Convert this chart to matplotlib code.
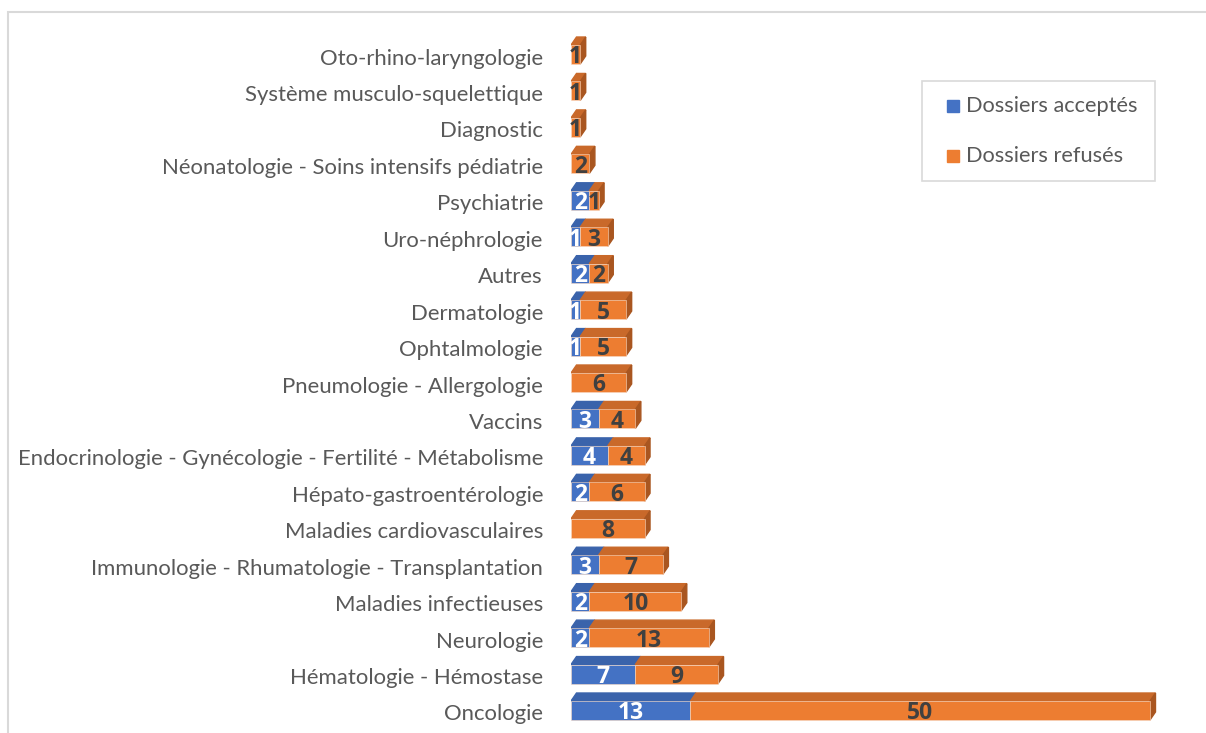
import matplotlib.pyplot as plt
from matplotlib.patches import Rectangle

# categories from bottom to top
categories = [
    'Oncologie',
    'Hématologie - Hémostase',
    'Neurologie',
    'Maladies infectieuses',
    'Immunologie - Rhumatologie - Transplantation',
    'Maladies cardiovasculaires',
    'Hépato-gastroentérologie',
    'Endocrinologie - Gynécologie - Fertilité - Métabolisme',
    'Vaccins',
    'Pneumologie - Allergologie',
    'Ophtalmologie',
    'Dermatologie',
    'Autres',
    'Uro-néphrologie',
    'Psychiatrie',
    'Néonatologie - Soins intensifs pédiatrie',
    'Diagnostic',
    'Système musculo-squelettique',
    'Oto-rhino-laryngologie',
]
acceptes = [13, 7, 2, 2, 3, 0, 2, 4, 3, 0, 1, 1, 2, 1, 2, 0, 0, 0, 0]
refuses = [50, 9, 13, 10, 7, 8, 6, 4, 4, 6, 5, 5, 2, 3, 1, 2, 1, 1, 1]

plt.rcParams['font.family'] = ['Lato', 'DejaVu Sans']

W, H = 1206, 733
fig = plt.figure(figsize=(W / 100, H / 100), dpi=100)

# outer light border of chart area
fig.patches.append(Rectangle((8 / W, -0.1), 1.2, 1 - 12 / H + 0.1, transform=fig.transFigure,
                             fill=False, edgecolor='#d9d9d9', linewidth=1.5))

px_per_unit = 9.19
row = 36.44
y_bottom_px = 710.5 + row / 2
y_top_px = 54.5 - row / 2
x0_px = 571
xmax = 68
ax = fig.add_axes([x0_px / W, (H - y_bottom_px) / H,
                   xmax * px_per_unit / W, (y_bottom_px - y_top_px) / H])
ax.set_xlim(0, xmax)
ax.set_ylim(-0.5, len(categories) - 0.5)
ax.axis('off')

blue, blue_top = '#4472C4', '#3A63AB'
orange, orange_top, orange_side = '#ED7D31', '#C9692A', '#A95620'
bh = 0.52
dx, dy = 0.6, 0.22
num_font = ['Open Sans', 'DejaVu Sans']

for i, name in enumerate(categories):
    a, r = acceptes[i], refuses[i]
    y0 = i - bh / 2
    y1 = i + bh / 2
    segs = [(0, a, blue, blue_top), (a, a + r, orange, orange_top)]
    for s, e, c, ct in segs:
        if e - s <= 0:
            continue
        ax.barh(i, e - s, left=s, height=bh, color=c, edgecolor='#f7d9c4', linewidth=0.4, zorder=3)
        ax.fill([s, e, e + dx, s + dx], [y1, y1, y1 + dy, y1 + dy], color=ct, zorder=2)
    end = a + r
    ax.fill([end, end + dx, end + dx, end], [y0, y0 + dy, y1 + dy, y1],
            color=orange_side, zorder=2)
    if a > 0:
        ax.text(a / 2, i - 0.08, str(a), ha='center', va='center', color='white',
                fontsize=16.5, fontweight='bold', family=num_font, zorder=4)
    if r > 0:
        ax.text(a + r / 2, i - 0.08, str(r), ha='center', va='center', color='#404040',
                fontsize=16.5, fontweight='bold', family=num_font, zorder=4)
    fig.text((x0_px - 28) / W, 1 - (710.5 + 4 - row * i) / H, name, ha='right', va='center',
             fontsize=15.9, color='#595959')

# legend
fig.patches.append(Rectangle((922 / W, 1 - 181 / H), (1155 - 922) / W, 100 / H,
                             transform=fig.transFigure, fill=False, edgecolor='#d9d9d9', linewidth=1.2))
for k, (lab, c) in enumerate([('Dossiers acceptés', blue), ('Dossiers refusés', orange)]):
    yc = 106 + k * 50
    fig.patches.append(Rectangle((947 / W, 1 - (yc + 6) / H), 12 / W, 12 / H,
                                 transform=fig.transFigure, color=c))
    fig.text(966 / W, 1 - yc / H, lab, ha='left', va='center', fontsize=15.7, color='#595959')

fig.savefig('out.png', dpi=100)
